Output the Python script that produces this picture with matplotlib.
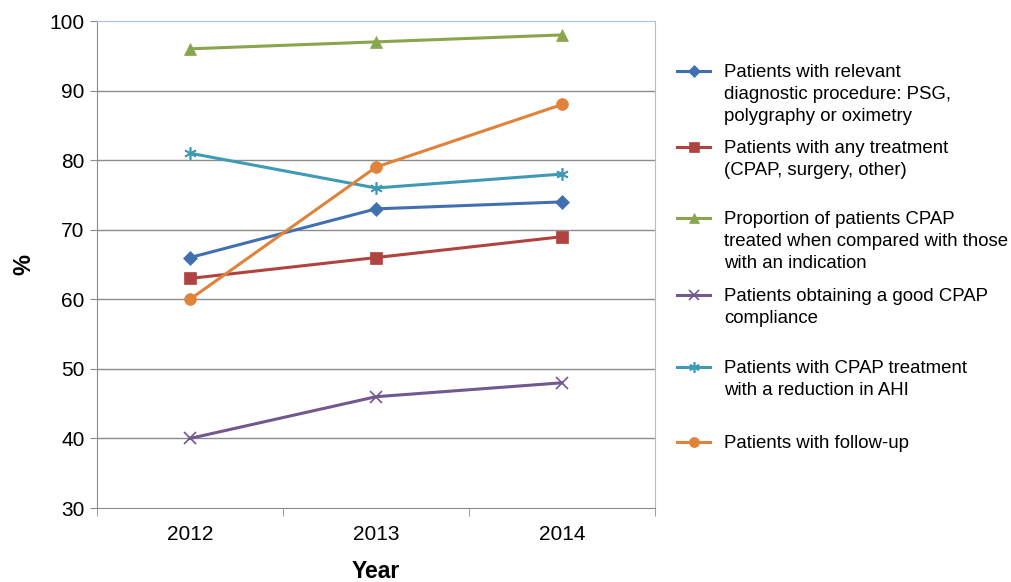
import matplotlib
matplotlib.use("Agg")
import matplotlib.pyplot as plt
from matplotlib.lines import Line2D

plt.rcParams['font.family'] = ['Liberation Sans', 'DejaVu Sans']

# données
years = ["2012", "2013", "2014"]
diagnostic = [66, 73, 74]
any_treatment = [63, 66, 69]
cpap_treated = [96, 97, 98]
good_compliance = [40, 46, 48]
ahi_reduction = [81, 76, 78]
follow_up = [60, 79, 88]

labels = [
    "Patients with relevant\ndiagnostic procedure: PSG,\npolygraphy or oximetry",
    "Patients with any treatment\n(CPAP, surgery, other)",
    "Proportion of patients CPAP\ntreated when compared with those\nwith an indication",
    "Patients obtaining a good CPAP\ncompliance",
    "Patients with CPAP treatment\nwith a reduction in AHI",
    "Patients with follow-up",
]

series = [diagnostic, any_treatment, cpap_treated, good_compliance, ahi_reduction, follow_up]
colors = ['#4170B0', '#B0433F', '#89A54E', '#71588F', '#3F9AB5', '#E0823A']
markers = ['D', 's', '^', 'x', (6, 2, 0), 'o']
msizes = [7, 8, 8.5, 8, 9, 8.5]

fig = plt.figure(figsize=(10.11, 5.82), dpi=100)
ax = fig.add_axes([0.0959, 0.1271, 0.5520, 0.8368])

x = list(range(len(years)))
for vals, c, m, ms in zip(series, colors, markers, msizes):
    ax.plot(x, vals, color=c, marker=m, markersize=ms, lw=2.2,
            markeredgewidth=1.2 if m in ('x', (6, 2, 0)) else 0.5,
            markeredgecolor=c, markerfacecolor=c, zorder=3, clip_on=False)

ax.set_xlim(-0.5, 2.5)
ax.set_ylim(30, 100)
ax.set_yticks(range(30, 101, 10))
ax.set_xticks(x)
ax.set_xticklabels(years)
ax.set_xticks([-0.5, 0.5, 1.5, 2.5], minor=True)
ax.tick_params(axis='x', which='major', length=0, labelsize=15, pad=12)
ax.tick_params(axis='x', which='minor', length=6, color='#8c8c8c', direction='out')
ax.tick_params(axis='y', length=5, color='#8c8c8c', labelsize=15, pad=4)
for yv in range(40, 100, 10):
    ax.axhline(yv, color='#8c8c8c', lw=1, zorder=1)

ax.spines['left'].set_color('#8c8c8c')
ax.spines['bottom'].set_color('#8c8c8c')
ax.spines['top'].set_color('#a7c0de')
ax.spines['right'].set_color('#a7c0de')

ax.set_ylabel("%", fontsize=17, fontweight='bold')
ax.yaxis.set_label_coords(-0.11, 0.5)
ax.set_xlabel("Year", fontsize=16.5, fontweight='bold', labelpad=12)

# légende à la façon d'Excel : une case par série, texte aligné en haut
entry_tops = [71, 147, 218, 295, 367, 442]
for lab, c, m, ms, ytop in zip(labels, colors, markers, msizes, entry_tops):
    yf = 1 - ytop / 582
    fig.add_artist(Line2D([677 / 1011, 693.5 / 1011, 710 / 1011], [yf, yf, yf],
                          transform=fig.transFigure, color=c, lw=2.2,
                          marker=m, markevery=[1], markersize=ms * 0.85,
                          markeredgecolor=c, markerfacecolor=c,
                          markeredgewidth=1.2 if m in ('x', (6, 2, 0)) else 0.5))
    fig.text(724 / 1011, yf + 7 / 582, lab, fontsize=13.4, va='top', ha='left',
             linespacing=1.37)

fig.savefig("out.png", dpi=100)
